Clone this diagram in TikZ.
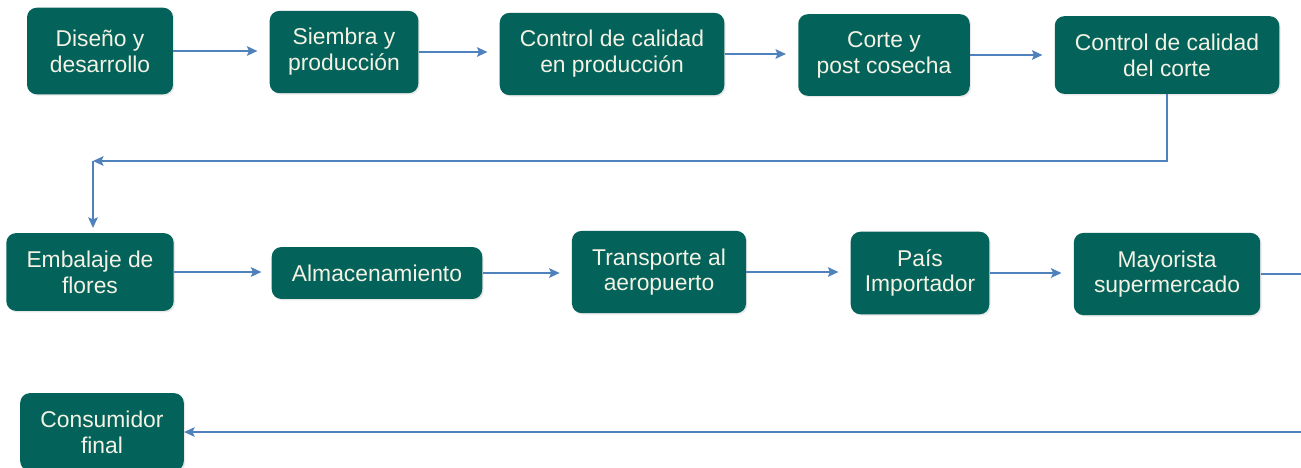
\documentclass[tikz,border=0pt]{standalone}
\usepackage{fontspec}
\setmainfont{Liberation Sans}
\usetikzlibrary{arrows.meta,shadows}
\definecolor{verde}{HTML}{03635A}
\definecolor{azul}{HTML}{4F81BD}
\definecolor{crema}{HTML}{F4F2E4}
\begin{document}
\begin{tikzpicture}[x=0.02cm,y=-0.02cm]
		\tikzstyle{every node}=[rectangle, rounded corners=5.5pt, fill=verde, text=crema, align=center, inner xsep=11.5pt, inner ysep=10pt, font=\fontsize{13}{14.7}\selectfont, drop shadow={opacity=0.18, shadow xshift=0.8pt, shadow yshift=-0.8pt}]
		\tikzstyle{flecha}=[draw=azul, line width=0.8pt, -{Stealth[length=6pt,width=5.5pt,inset=1.2pt]}]
		\useasboundingbox (0,0) rectangle (1301,467);
		\node (Diseno)[inner xsep=13pt, inner ysep=12.5pt] at (100,51) {Diseño y\\desarrollo};
		\node (Siembra)[inner xsep=10.5pt] at (344,52) {Siembra y\\producción};
		\node (CalidadProd) at (612,54) {Control de calidad\\en producción};
		\node (Corte)[inner xsep=10.5pt] at (884,55) {Corte y\\post cosecha};
		\node (CalidadCorte) at (1167,55) {Control de calidad\\del corte};
		\node (Embalaje) at (90,272) {Embalaje de\\flores};
		\node (Almacen) at (377,273) {Almacenamiento};
		\node (Transporte) at (659,272) {Transporte al\\aeropuerto};
		\node (Pais)[inner xsep=8pt] at (920,273) {País\\Importador};
		\node (Mayorista) at (1167,274) {Mayorista\\supermercado};
		\node (Consumidor) at (102,432) {Consumidor\\final};
		\coordinate (Giro) at (93,161);
		\coordinate (Salida) at (1301,274);
		\coordinate (Entrada) at (1301,432);
		\draw[flecha, shorten >=6.8pt] (Diseno.east) -- (Diseno.east -| Siembra.west);
		\draw[flecha, shorten >=6.8pt] (Siembra.east) -- (Siembra.east -| CalidadProd.west);
		\draw[flecha, shorten >=6.8pt] (CalidadProd.east) -- (CalidadProd.east -| Corte.west);
		\draw[flecha, shorten >=6.8pt] (Corte.east) -- (Corte.east -| CalidadCorte.west);
		\draw[flecha] (CalidadCorte.south) |- (Giro);
		\draw[flecha, shorten >=2.8pt] (Giro) -- (Giro |- Embalaje.north);
		\draw[flecha, shorten >=5.7pt] (Embalaje.east) -- (Embalaje.east -| Almacen.west);
		\draw[flecha, shorten >=6.8pt] (Almacen.east) -- (Almacen.east -| Transporte.west);
		\draw[flecha, shorten >=6.8pt] (Transporte.east) -- (Transporte.east -| Pais.west);
		\draw[flecha, shorten >=6.8pt] (Pais.east) -- (Pais.east -| Mayorista.west);
		\draw[draw=azul, line width=0.8pt] (Mayorista.east) -- (Mayorista.east -| Salida);
		\draw[flecha] (Entrada) -- (Consumidor.east);
\end{tikzpicture}
\end{document}
